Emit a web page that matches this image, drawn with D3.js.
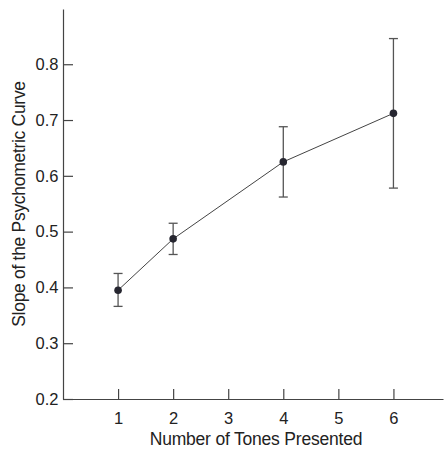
<!DOCTYPE html>
<html>
<head>
<meta charset="utf-8">
<script src="https://cdn.jsdelivr.net/npm/d3@7"></script>
<style>
  body { margin: 0; background: #fff; }
  #vis { width: 444px; height: 449px; }
  text { font-family: "Liberation Sans", Arial, sans-serif; fill: #222; }
</style>
</head>
<body>
<div id="vis"></div>
<script>
// data
var tones = [1, 2, 4, 6];
var slope = [0.395, 0.487, 0.625, 0.712];
var upper = [0.425, 0.515, 0.688, 0.846];
var lower = [0.366, 0.459, 0.562, 0.578];
var xTicks = [1, 2, 3, 4, 5, 6];
var yTicks = [0.2, 0.3, 0.4, 0.5, 0.6, 0.7, 0.8];

var width = 444, height = 449;
var margin = { top: 9, bottom: 50, left: 63, right: 1 };

var svg = d3.select('#vis')
    .append('svg')
    .attr('width', width)
    .attr('height', height);

var x_scale = d3.scaleLinear()
    .domain([0, 6.9])
    .range([margin.left, width - margin.right]);

var y_scale = d3.scaleLinear()
    .domain([0.2, 0.899])
    .range([height - margin.bottom, margin.top]);

var axisColour = '#444';

// x axis, ticks pointing in
var x_axis = d3.axisBottom(x_scale)
    .tickValues(xTicks)
    .tickFormat(d3.format('d'))
    .tickSizeInner(-10)
    .tickSizeOuter(0)
    .tickPadding(13);

var gx = svg.append('g')
    .attr('class', 'x axis')
    .attr('transform', 'translate(0,' + y_scale(0.2) + ')')
    .call(x_axis);

// y axis, ticks pointing in
var y_axis = d3.axisLeft(y_scale)
    .tickValues(yTicks)
    .tickFormat(d3.format('.1f'))
    .tickSizeInner(-10)
    .tickSizeOuter(0)
    .tickPadding(4.5);

var gy = svg.append('g')
    .attr('class', 'y axis')
    .attr('transform', 'translate(' + margin.left + ',0)')
    .call(y_axis);

svg.selectAll('.axis path, .axis line')
    .attr('stroke', axisColour)
    .attr('stroke-width', 1.2);
svg.selectAll('.axis text')
    .style('font-size', '16.5px')
    .attr('fill', '#222');
gx.selectAll('.tick text').attr('dy', '0.71em');

var data = tones.map(function(t, i) {
    return { x: t, y: slope[i], hi: upper[i], lo: lower[i] };
});

// connecting line
var line = d3.line()
    .x(function(d) { return x_scale(d.x); })
    .y(function(d) { return y_scale(d.y); });

svg.append('path')
    .datum(data)
    .attr('d', line)
    .attr('fill', 'none')
    .attr('stroke', '#444')
    .attr('stroke-width', 1);

// error bars
var err = svg.selectAll('.err')
    .data(data)
    .enter()
    .append('g')
    .attr('class', 'err')
    .attr('stroke', '#555')
    .attr('stroke-width', 1.3);

err.append('line')
    .attr('x1', function(d) { return x_scale(d.x); })
    .attr('x2', function(d) { return x_scale(d.x); })
    .attr('y1', function(d) { return y_scale(d.hi); })
    .attr('y2', function(d) { return y_scale(d.lo); });

err.append('line')
    .attr('x1', function(d) { return x_scale(d.x) - 4.5; })
    .attr('x2', function(d) { return x_scale(d.x) + 4.5; })
    .attr('y1', function(d) { return y_scale(d.hi); })
    .attr('y2', function(d) { return y_scale(d.hi); });

err.append('line')
    .attr('x1', function(d) { return x_scale(d.x) - 4.5; })
    .attr('x2', function(d) { return x_scale(d.x) + 4.5; })
    .attr('y1', function(d) { return y_scale(d.lo); })
    .attr('y2', function(d) { return y_scale(d.lo); });

// points
svg.selectAll('.dot')
    .data(data)
    .enter()
    .append('circle')
    .attr('class', 'dot')
    .attr('cx', function(d) { return x_scale(d.x); })
    .attr('cy', function(d) { return y_scale(d.y); })
    .attr('r', 3.8)
    .attr('fill', '#262630');

// axis titles
svg.append('text')
    .attr('x', 256)
    .attr('y', 445)
    .style('text-anchor', 'middle')
    .style('font-size', '17.5px')
    .style('letter-spacing', '-0.2px')
    .text('Number of Tones Presented');

svg.append('text')
    .attr('transform', 'translate(25,' + (y_scale(0.2) + margin.top) / 2 + ') rotate(-90)')
    .style('text-anchor', 'middle')
    .style('font-size', '17.5px')
    .style('letter-spacing', '-0.3px')
    .text('Slope of the Psychometric Curve');
</script>
</body>
</html>
